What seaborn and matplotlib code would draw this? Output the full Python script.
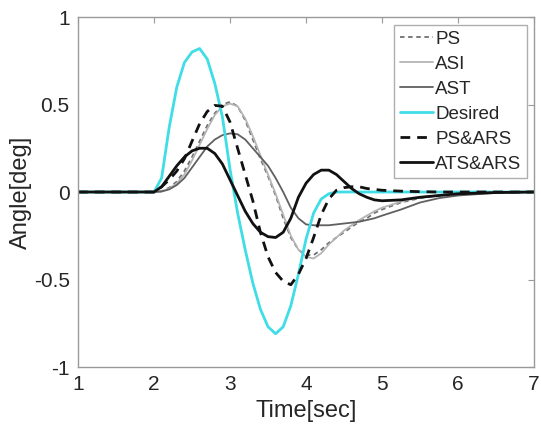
import matplotlib
matplotlib.use("Agg")
import matplotlib.pyplot as plt
import seaborn as sns
import pandas as pd

# ---- data ----
t = [1.0, 2.0, 2.1, 2.2, 2.3, 2.4, 2.5, 2.6, 2.7, 2.8, 2.9,
     3.0, 3.1, 3.2, 3.3, 3.4, 3.5, 3.6, 3.7, 3.8, 3.9,
     4.0, 4.1, 4.2, 4.3, 4.4, 4.5, 4.6, 4.7, 4.8, 4.9,
     5.0, 5.25, 5.5, 5.75, 6.0, 6.5, 7.0]

ps = [0, 0, 0.005, 0.025, 0.06, 0.12, 0.20, 0.29, 0.38, 0.45, 0.50,
      0.515, 0.49, 0.41, 0.30, 0.19, 0.09, -0.02, -0.15, -0.26, -0.33,
      -0.36, -0.36, -0.33, -0.29, -0.26, -0.23, -0.20, -0.17, -0.15, -0.12,
      -0.10, -0.06, -0.035, -0.02, -0.01, -0.003, 0]

asi = [0, 0, 0.003, 0.02, 0.05, 0.10, 0.18, 0.27, 0.36, 0.44, 0.49,
       0.505, 0.49, 0.42, 0.32, 0.21, 0.10, -0.01, -0.13, -0.25, -0.33,
       -0.37, -0.38, -0.35, -0.30, -0.26, -0.22, -0.19, -0.16, -0.135, -0.11,
       -0.09, -0.055, -0.03, -0.018, -0.01, -0.003, 0]

ast = [0, 0, 0.003, 0.015, 0.04, 0.08, 0.14, 0.20, 0.26, 0.30, 0.325,
       0.335, 0.33, 0.30, 0.25, 0.20, 0.15, 0.08, 0.0, -0.09, -0.15,
       -0.185, -0.19, -0.19, -0.19, -0.185, -0.18, -0.175, -0.17, -0.16, -0.15,
       -0.135, -0.10, -0.06, -0.035, -0.02, -0.005, 0]

desired = [0, 0, 0.08, 0.37, 0.60, 0.74, 0.80, 0.82, 0.76, 0.62, 0.43,
           0.13, -0.12, -0.33, -0.52, -0.67, -0.77, -0.81, -0.77, -0.65, -0.47,
           -0.27, -0.12, -0.04, -0.01, 0, 0, 0, 0, 0, 0,
           0, 0, 0, 0, 0, 0, 0]

ps_ars = [0, 0, 0.03, 0.07, 0.12, 0.19, 0.29, 0.39, 0.46, 0.495, 0.49,
          0.40, 0.25, 0.10, -0.05, -0.23, -0.37, -0.46, -0.51, -0.53, -0.47,
          -0.38, -0.26, -0.13, -0.04, 0.01, 0.025, 0.03, 0.03, 0.02, 0.015,
          0.01, 0.005, 0.002, 0, 0, 0, 0]

ats_ars = [0, 0, 0.03, 0.09, 0.15, 0.20, 0.235, 0.25, 0.25, 0.22, 0.16,
           0.07, -0.02, -0.11, -0.18, -0.23, -0.255, -0.26, -0.23, -0.15, -0.03,
           0.05, 0.10, 0.125, 0.125, 0.10, 0.06, 0.02, -0.01, -0.03, -0.045,
           -0.05, -0.045, -0.03, -0.02, -0.01, -0.003, 0]

labels = ["PS", "ASI", "AST", "Desired", "PS&ARS", "ATS&ARS"]
x_ticks = [1, 2, 3, 4, 5, 6, 7]
y_ticks = [-1, -0.5, 0, 0.5, 1]
y_ticklabels = ["-1", "-0.5", "0", "0.5", "1"]

series = [ps, asi, ast, desired, ps_ars, ats_ars]
frames = [pd.DataFrame({"Time": t, "Angle": s, "Series": name})
          for name, s in zip(labels, series)]
df = pd.concat(frames, ignore_index=True)

styles = {
    "PS":      dict(color="#707070", lw=1.3, ls=(0, (2.5, 2))),
    "ASI":     dict(color="#b4b4b4", lw=1.3, ls="-"),
    "AST":     dict(color="#606060", lw=1.3, ls="-"),
    "Desired": dict(color="#3fdde6", lw=2.0, ls="-"),
    "PS&ARS":  dict(color="#111111", lw=2.0, ls=(0, (3.5, 2.5))),
    "ATS&ARS": dict(color="#111111", lw=2.0, ls="-"),
}

sns.set_style("white")
plt.rcParams["font.family"] = ["Liberation Sans", "DejaVu Sans"]

fig = plt.figure(figsize=(5.41, 4.33), dpi=100)
ax = fig.add_axes([0.1442, 0.1524, 0.8429, 0.8083])

for name in labels:
    st = styles[name]
    sns.lineplot(data=df[df["Series"] == name], x="Time", y="Angle",
                 ax=ax, color=st["color"], linewidth=st["lw"],
                 linestyle=st["ls"], label=name, estimator=None, sort=False)

ax.set_xlim(1, 7)
ax.set_ylim(-1, 1)
ax.set_xticks(x_ticks)
ax.set_yticks(y_ticks)
ax.set_yticklabels(y_ticklabels)
ax.tick_params(direction="in", length=4, width=0.8, colors="#9a9a9a",
               labelcolor="#262626", labelsize=15, top=True, right=True,
               pad=6)
for sp in ax.spines.values():
    sp.set_color("#9a9a9a")
    sp.set_linewidth(1.0)

ax.set_xlabel("Time[sec]", fontsize=17, color="#262626", labelpad=4)
ax.set_ylabel("Angle[deg]", fontsize=17, color="#262626", labelpad=1)

leg = ax.legend(loc="upper right", bbox_to_anchor=(0.985, 0.977),
                fontsize=13.5, frameon=True, fancybox=False,
                handlelength=1.8, handletextpad=0.1, labelspacing=0.42,
                borderpad=0.3, borderaxespad=0.0)
leg.get_frame().set_edgecolor("#9a9a9a")
leg.get_frame().set_linewidth(1.0)
for txt in leg.get_texts():
    txt.set_color("#262626")

fig.savefig("out.png", dpi=100)
